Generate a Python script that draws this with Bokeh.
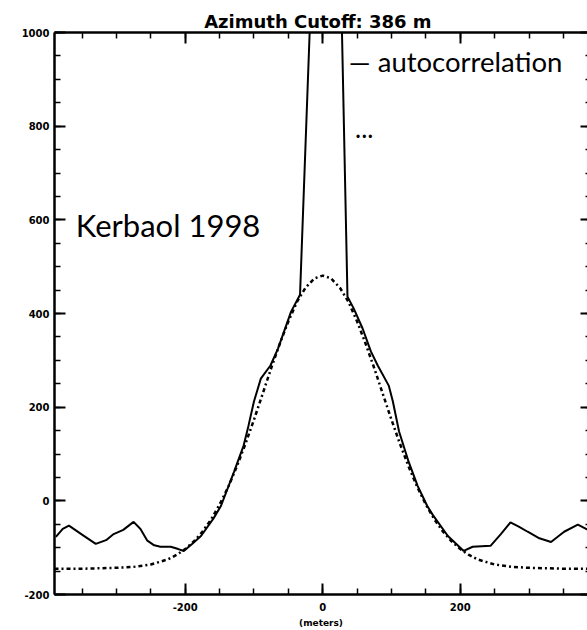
from bokeh.plotting import figure
from bokeh.models import Range1d, LinearAxis, SingleIntervalTicker, Label
from bokeh.embed import file_html
from bokeh.resources import INLINE

# ---- data ----
acf_lag = [-388, -378, -369, -350, -330, -315, -304, -290, -275, -265, -255, -245,
           -236, -221, -210, -202, -190, -177, -159, -148, -129, -115, -108, -100,
           -90, -76, -65, -46, -33, 11, 36, 45, 58, 70, 80, 96, 102, 111, 125, 138,
           152, 160, 182, 205, 218, 244, 259, 273, 285, 298, 315, 332, 351, 371, 386]
acf_val = [-77, -60, -53, -72, -92, -84, -71, -62, -45, -60, -85, -95,
           -98, -98, -103, -107, -92, -75, -38, -11, 62, 118, 160, 212,
           261, 289, 325, 404, 440, 2200, 436, 411, 368, 319, 289, 246, 212, 148, 83, 32,
           -11, -30, -75, -107, -98, -96, -71, -46, -55, -66, -80, -88, -66, -51, -62]

fit_lag = [-390, -350, -300, -275, -250, -225, -212, -200, -187, -175, -162, -150,
           -137, -125, -112, -100, -87, -75, -62, -50, -37, -25, -12, 0,
           12, 25, 37, 50, 62, 75, 87, 100, 112, 125, 137, 150, 162, 175, 187,
           200, 212, 225, 250, 275, 300, 350, 390]
fit_val = [-145, -145, -143, -141, -136, -125, -115, -103, -86, -66, -39, -8,
           31, 73, 123, 173, 230, 283, 337, 383, 426, 455, 475, 481,
           475, 455, 426, 383, 337, 283, 230, 173, 123, 73, 31, -8, -39, -66, -86,
           -103, -115, -125, -136, -141, -143, -145, -145]

x_ticks = [-200, 0, 200]
x_tick_labels = ["-200", "0", "200"]
y_ticks = [-200, 0, 200, 400, 600, 800, 1000]
y_tick_labels = ["-200", "0", "200", "400", "600", "800", "1000"]

title_text = "Azimuth Cutoff:  386 m"
x_label = "(meters)"

p = figure(width=587, height=630, output_backend="svg", toolbar_location=None,
           x_range=Range1d(-390, 385), y_range=Range1d(-200, 1000),
           x_axis_type=None, y_axis_type=None,
           min_border_left=54, min_border_right=0, min_border_top=32, min_border_bottom=34)
p.outline_line_color = None
p.background_fill_color = "white"
p.border_fill_color = "white"

p.title.text = title_text
p.title.align = "center"
p.title.text_font = "DejaVu Sans"
p.title.text_font_size = "18px"
p.title.text_font_style = "bold"
p.title.text_color = "black"
p.title.standoff = 2


def make_axis(ticks, labels, show_labels=True, tin=11, mtin=6, line=True):
    ax = LinearAxis(ticker=SingleIntervalTicker(interval=200, num_minor_ticks=4))
    ax.axis_line_width = 2.5
    ax.axis_line_color = "black" if line else None
    ax.major_tick_in = tin
    ax.major_tick_out = 0
    ax.minor_tick_in = mtin
    ax.minor_tick_out = 0
    ax.major_tick_line_width = 2
    ax.minor_tick_line_width = 1.5
    ax.major_tick_line_color = "black"
    ax.minor_tick_line_color = "black"
    if show_labels:
        ax.major_label_overrides = {t: s for t, s in zip(ticks, labels)}
        ax.major_label_text_font = "DejaVu Sans"
        ax.major_label_text_font_style = "bold"
        ax.major_label_text_font_size = "10px"
        ax.major_label_text_color = "black"
    else:
        ax.major_label_text_font_size = "1px"
        ax.major_label_text_alpha = 0
        ax.major_label_standoff = 0
    return ax


bottom = make_axis(x_ticks, x_tick_labels)
bottom.major_label_standoff = 8
bottom.axis_label = x_label
bottom.axis_label_text_font = "DejaVu Sans"
bottom.axis_label_text_font_style = "bold"
bottom.axis_label_text_font_size = "9px"
bottom.axis_label_text_color = "black"
bottom.axis_label_standoff = 4
p.add_layout(bottom, "below")

left = make_axis(y_ticks, y_tick_labels)
left.major_label_standoff = 5
p.add_layout(left, "left")

top = make_axis(x_ticks, x_tick_labels, show_labels=False)
p.add_layout(top, "above")

right = make_axis(y_ticks, y_tick_labels, show_labels=False, tin=7, mtin=2, line=False)
p.add_layout(right, "right")

# curves
p.line(fit_lag, fit_val, line_color="black", line_width=2.5, line_dash="4 3 2 3")
p.line(acf_lag, acf_val, line_color="black", line_width=2)

# annotations
p.add_layout(Label(x=38, y=903, text="\u2014 autocorrelation", text_font="Lato",
                   text_font_size="27.5px", text_color="black"))
p.add_layout(Label(x=47, y=775, text="...", text_font="Lato",
                   text_font_size="26px", text_color="black"))
p.add_layout(Label(x=-359, y=548, text="Kerbaol 1998", text_font="Lato",
                   text_font_size="31px", text_color="black"))

open("out.html", "w").write(file_html(p, INLINE))
